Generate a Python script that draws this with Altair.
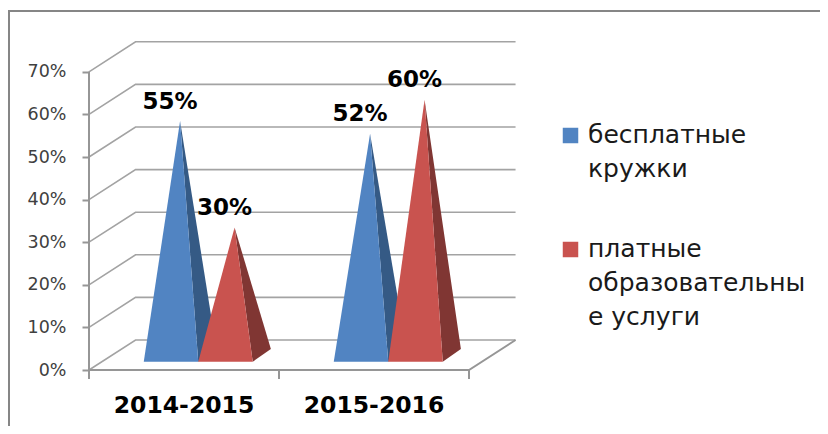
import altair as alt
import pandas as pd

CATEGORIES = ["2014-2015", "2015-2016"]
FREE = [55, 52]
PAID = [30, 60]
TICKS = [0, 10, 20, 30, 40, 50, 60, 70]
LEGEND_LINES = [["бесплатные", "кружки"], ["платные", "образовательны", "е услуги"]]
FRONT = {"free": "#5184c2", "paid": "#c9534f"}
SIDE = {"free": "#355a85", "paid": "#803633"}

W, H = 812, 418
X_SCALE = alt.Scale(domain=[-81 / 190, (W - 81) / 190], range=[0, W], nice=False, zero=False)
Y_SCALE = alt.Scale(domain=[-(H - 362) / 4.26, 362 / 4.26], range=[H, 0], nice=False, zero=False)
FONT = "DejaVu Sans"
GRID = "#a3a3a3"
AXIS = "#969696"

# 3-D wall depth, in category units and percent units
DX, DY = 0.245, 7.04
# pyramid footprint
WIDTH = 0.2868
DEPTH_X, DEPTH_Y = 0.0955, 2.98
FLOOR = 1.95

Y_AXIS = alt.Axis(
    values=TICKS, title=None, domain=False, grid=False, offset=-81, tickSize=7, tickWidth=2,
    tickColor=AXIS, labelPadding=16, labelFont=FONT, labelFontSize=17.5, labelColor="#404040",
    labelExpr="datum.value + '%'", labelBound=False, labelFlush=False, labelOverlap=False)

x_enc = alt.X("x:Q", scale=X_SCALE, axis=None)
y_enc = alt.Y("y:Q", scale=Y_SCALE, axis=Y_AXIS)

front_rows, side_rows, label_rows = [], [], []
for i, cat in enumerate(CATEGORIES):
    for s, vals in (("free", FREE), ("paid", PAID)):
        pid = f"{s}{i}"
        v = vals[i]
        xl = i + 0.575 - WIDTH if s == "free" else i + 0.575
        xr = xl + WIDTH
        xa = xl + WIDTH / 2 + DEPTH_X / 2
        y0 = FLOOR
        y1 = FLOOR + DEPTH_Y
        ya = v + FLOOR + DEPTH_Y / 2
        for x, y in ((xl, y0), (xa, ya), (xr, y0)):
            front_rows.append(dict(id=pid, s=s, x=x, y=y, y2=y0, c=FRONT[s]))
        xb = xr + DEPTH_X
        yu = ya + (y1 - ya) * (xr - xa) / (xb - xa)
        for x, y, y2 in ((xa, ya, ya), (xr, yu, y0), (xb, y1, y1)):
            side_rows.append(dict(id=pid, s=s, x=x, y=y, y2=y2, c=SIDE[s]))
        label_rows.append(dict(x=xa, y=ya, t=f"{v}%"))

front = pd.DataFrame(front_rows)
side = pd.DataFrame(side_rows)

layers = []

# frame
layers.append(alt.Chart(pd.DataFrame({"a": [0]})).mark_rule(color="#868686", strokeWidth=2).encode(
    x=alt.value(1), y=alt.value(3), y2=alt.value(H)))
layers.append(alt.Chart(pd.DataFrame({"a": [0]})).mark_rule(color="#868686", strokeWidth=2).encode(
    x=alt.value(0), x2=alt.value(W), y=alt.value(3)))

# walls
wall = []
for t in TICKS:
    wall += [dict(t=t, o=0, x=0, y=t), dict(t=t, o=1, x=DX, y=t + DY), dict(t=t, o=2, x=2 + DX, y=t + DY)]
layers.append(alt.Chart(pd.DataFrame(wall)).mark_line(color=GRID, strokeWidth=1.6).encode(
    x=x_enc, y=y_enc, detail="t:N", order="o:Q"))

# floor: front edge, right edge
floor = pd.DataFrame([dict(o=0, x=0, y=0), dict(o=1, x=2, y=0), dict(o=2, x=2 + DX, y=DY)])
layers.append(alt.Chart(floor).mark_line(color=AXIS, strokeWidth=2).encode(x=x_enc, y=y_enc, order="o:Q"))

# value axis line
axis_df = pd.DataFrame({"x": [0], "y": [TICKS[0]], "y2": [TICKS[-1]]})
layers.append(alt.Chart(axis_df).mark_rule(color=AXIS, strokeWidth=2).encode(x=x_enc, y=y_enc, y2="y2:Q"))

# category ticks
tick_df = pd.DataFrame({"x": list(range(len(CATEGORIES) + 1)), "y": 0, "y2": -2.1})
layers.append(alt.Chart(tick_df).mark_rule(color=AXIS, strokeWidth=2).encode(x=x_enc, y=y_enc, y2="y2:Q"))

# pyramids, back to front
for s in ("free", "paid"):
    for df in (side, front):
        sub = df[df.s == s]
        layers.append(alt.Chart(sub).mark_area(interpolate="linear", opacity=1).encode(
            x=x_enc, y=y_enc, y2="y2:Q", detail="id:N",
            color=alt.Color("c:N", scale=None)))

# value labels
layers.append(alt.Chart(pd.DataFrame(label_rows)).mark_text(
    font=FONT, fontWeight="bold", fontSize=23, color="#000000", dx=-10, dy=-19.5, baseline="middle"
).encode(x=x_enc, y=y_enc, text="t:N"))

# category labels
cat_df = pd.DataFrame({"x": [i + 0.5 for i in range(len(CATEGORIES))], "t": CATEGORIES})
layers.append(alt.Chart(cat_df).mark_text(
    font=FONT, fontWeight="bold", fontSize=23.5, color="#000000", baseline="middle"
).encode(x=x_enc, y=alt.value(398), text="t:N"))

# legend
block_y = [127, 241]
for k, lines in enumerate(LEGEND_LINES):
    colour = list(FRONT.values())[k]
    layers.append(alt.Chart(pd.DataFrame({"a": [k]})).mark_square(
        size=240, color=colour, opacity=1, filled=True).encode(
        x=alt.value(562.5), y=alt.value(block_y[k] + 0.5)))
    for j, line in enumerate(lines):
        ldf = pd.DataFrame({"t": [line]})
        layers.append(alt.Chart(ldf).mark_text(
            font=FONT, fontSize=25, color="#1a1a1a", align="left", baseline="middle"
        ).encode(x=alt.value(580), y=alt.value(block_y[k] + 34 * j), text="t:N"))

chart = alt.layer(*layers).properties(
    width=W, height=H, padding=0, autosize=alt.AutoSizeParams(type="none"), background="white"
).configure_view(stroke=None)

chart.save("out.html", embed_options={"renderer": "svg", "actions": False})
